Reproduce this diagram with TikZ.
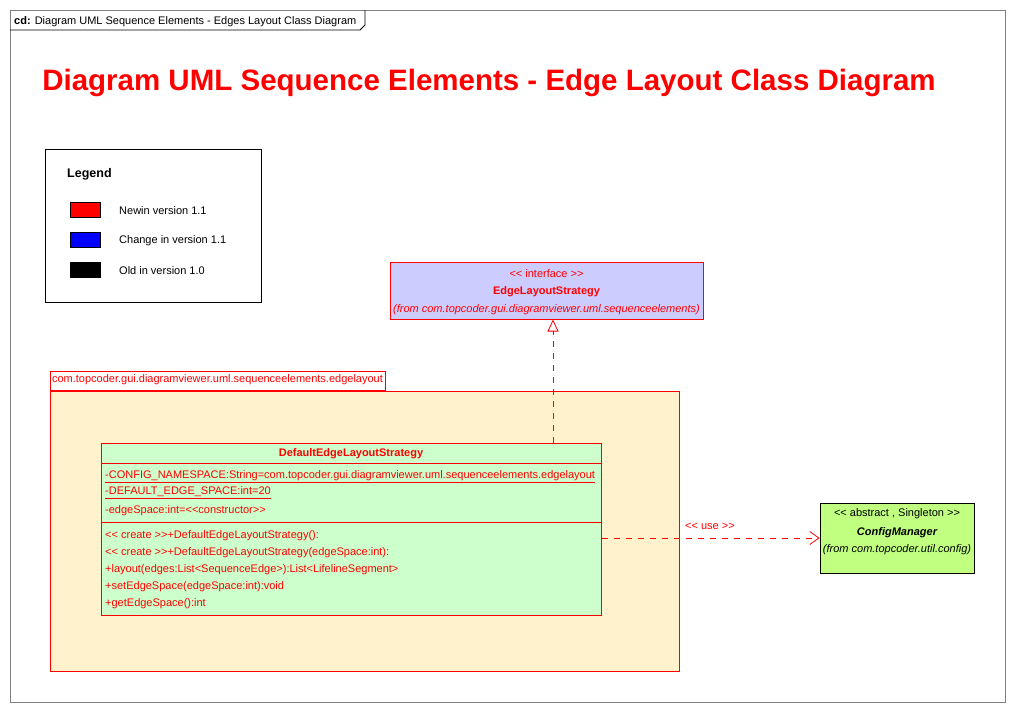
\documentclass[tikz,border=0pt]{standalone}
\usepackage{fontspec}
\setmainfont[Ligatures=TeXOff]{Liberation Sans}
\usetikzlibrary{arrows.meta,positioning}
\definecolor{umlred}{RGB}{255,0,0}
\definecolor{framegray}{RGB}{128,128,128}
\definecolor{ifacefill}{RGB}{204,204,255}
\definecolor{pkgfill}{RGB}{255,242,204}
\definecolor{classfill}{RGB}{204,255,204}
\definecolor{extfill}{RGB}{192,255,128}
\begin{document}
\begin{tikzpicture}[x=1pt,y=-1pt,
  every node/.style={font=\fontsize{11}{12}\selectfont, inner sep=0pt},
  umlbox/.style={draw=umlred, line width=1pt, minimum width=#1},
  txt/.style={text=umlred},
  member/.style={text=umlred, anchor=west},
  swatch/.style={draw=black, minimum width=30pt, minimum height=15pt},
  dep/.style={draw=umlred, line width=0.8pt, dash pattern=on 6pt off 6pt}]
  \useasboundingbox (0,0) rectangle (1015,712);
  % frame
  \draw[framegray, line width=1pt] (10,10) rectangle (1005,702);
  \draw[black, line width=0.8pt] (10,30) -- (360,30) -- (365,25) -- (365,10);
  \node[anchor=west] (frametitle) at (14,21.5) {\textbf{cd:} Diagram UML Sequence Elements - Edges Layout Class Diagram};
  \node[txt, font=\fontsize{29.5}{32}\bfseries] (title) at (489,83) {Diagram UML Sequence Elements - Edge Layout Class Diagram};
  % legend
  \node[draw=black, line width=1pt, minimum width=216pt, minimum height=153pt] (legend) at (153,225.5) {};
  \node[anchor=west, font=\fontsize{12.5}{13}\bfseries] (legendtitle) at (67,174) {Legend};
  \node[swatch, fill=umlred] (newsw) at (85,209.5) {};
  \node[swatch, fill=blue] (chgsw) at (85,239.5) {};
  \node[swatch, fill=black] (oldsw) at (85,269.5) {};
  \node[anchor=west] (newtxt) at (119,211) {Newin version 1.1};
  \node[anchor=west] (chgtxt) at (119,241) {Change in version 1.1};
  \node[anchor=west] (oldtxt) at (119,271) {Old in version 1.0};
  % interface
  \node[umlbox=313pt, fill=ifacefill, minimum height=57pt] (iface) at (546.5,290.5) {};
  \node[txt] (ifacester) at (546.5,274) {<< interface >>};
  \node[txt, font=\fontsize{11}{12}\bfseries] (ifacename) at (546.5,292) {EdgeLayoutStrategy};
  \node[txt, font=\fontsize{11}{12}\itshape] (ifacefrom) at (546.5,310) {(from com.topcoder.gui.diagramviewer.uml.sequenceelements)};
  % package
  \node[umlbox=629pt, fill=pkgfill, minimum height=280pt] (pkg) at (364.5,531) {};
  \node[umlbox=335pt, fill=white, minimum height=19pt, anchor=south west] (pkgtab) at (pkg.north west) {};
  \node[txt] (pkgname) at ([yshift=1pt]pkgtab.center) {com.topcoder.gui.diagramviewer.uml.sequenceelements.edgelayout};
  % class
  \node[umlbox=500pt, fill=classfill, minimum height=172pt] (cls) at (351,529) {};
  \node[txt, font=\fontsize{11}{12}\bfseries] (clsname) at (351,454) {DefaultEdgeLayoutStrategy};
  \draw[umlred, line width=1pt] (cls.west |- 0,463) -- (cls.east |- 0,463);
  \draw[umlred, line width=1pt] (cls.west |- 0,522) -- (cls.east |- 0,522);
  \node[member] (a1) at (105,476.5) {\underline{-CONFIG\_NAMESPACE:String=com.topcoder.gui.diagramviewer.uml.sequenceelements.edgelayout}};
  \node[member] (a2) at (105,493) {\underline{-DEFAULT\_EDGE\_SPACE:int=20}};
  \node[member] (a3) at (105,511) {-edgeSpace:int=<<constructor>>};
  \node[member] (m1) at (105,536) {<< create >>+DefaultEdgeLayoutStrategy():};
  \node[member] (m2) at (105,553) {<< create >>+DefaultEdgeLayoutStrategy(edgeSpace:int):};
  \node[member] (m3) at (105,570) {+layout(edges:List<SequenceEdge>):List<LifelineSegment>};
  \node[member] (m4) at (105,587) {+setEdgeSpace(edgeSpace:int):void};
  \node[member] (m5) at (105,604) {+getEdgeSpace():int};
  % config manager
  \node[draw=black, line width=1pt, fill=extfill, minimum width=154pt, minimum height=70pt] (cfg) at (897,538) {};
  \node (cfgster) at (897,514) {<< abstract , Singleton >>};
  \node[font=\fontsize{11}{12}\bfseries\itshape] (cfgname) at (897,533) {ConfigManager};
  \node[font=\fontsize{11}{12}\itshape] (cfgfrom) at (897,550) {(from com.topcoder.util.config)};
  % connectors
  \draw[dep, -{Triangle[open, width=11pt, length=12pt]}] (cls.north -| 553,0) -- (iface.south -| 553,0);
  \draw[dep, -{Straight Barb[length=9pt, width=13pt]}] (cls.east |- cfg.west) -- (cfg.west);
  \node[txt] (uselbl) at (710,526) {<< use >>};
\end{tikzpicture}
\end{document}
